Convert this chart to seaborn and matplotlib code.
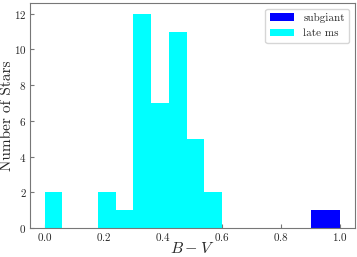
import matplotlib
matplotlib.use("Agg")
import matplotlib.pyplot as plt
import seaborn as sns
import numpy as np

# late main sequence: 10 bins between 0.0 and 0.6
ms_edges = [0.0, 0.06, 0.12, 0.18, 0.24, 0.30, 0.36, 0.42, 0.48, 0.54, 0.60]
ms_counts = [2, 0, 0, 2, 1, 12, 7, 11, 5, 2]

# subgiant: one star
sg_edges = [0.9, 1.0]
sg_counts = [1]

sns.set_style("ticks")
plt.rcParams["font.family"] = ["cmr10", "DejaVu Serif"]
plt.rcParams["mathtext.fontset"] = "cm"
plt.rcParams["axes.formatter.use_mathtext"] = True
plt.rcParams["axes.edgecolor"] = "#777777"
plt.rcParams["xtick.direction"] = "in"
plt.rcParams["ytick.direction"] = "in"

fig, ax = plt.subplots(figsize=(3.57, 2.57), dpi=100)

ms_centers = [(a + b) / 2 for a, b in zip(ms_edges[:-1], ms_edges[1:])]
sg_centers = [(a + b) / 2 for a, b in zip(sg_edges[:-1], sg_edges[1:])]

sns.histplot(x=sg_centers, weights=sg_counts, bins=sg_edges, color="#0000ff",
             alpha=1, linewidth=0, label="subgiant", ax=ax)
sns.histplot(x=ms_centers, weights=ms_counts, bins=ms_edges, color="#00ffff",
             alpha=1, linewidth=0, label="late ms", ax=ax)

ax.set_xlim(-0.05, 1.05)
ax.set_ylim(0, 12.6)
ax.set_xticks([0.0, 0.2, 0.4, 0.6, 0.8, 1.0])
ax.set_yticks([0, 2, 4, 6, 8, 10, 12])
ax.tick_params(labelsize=8, length=3, pad=2.5, color="#777777")
ax.set_xlabel("$B-V$", fontsize=11.5)
ax.set_ylabel("Number of Stars", fontsize=11)
ax.yaxis.set_label_coords(-0.05, 0.5)
ax.xaxis.set_label_coords(0.5, -0.06)
ax.legend(loc="upper right", fontsize=8, handlelength=2.2)

fig.subplots_adjust(left=0.084, right=0.994, bottom=0.113, top=0.988)
plt.savefig("out.png", dpi=100)
